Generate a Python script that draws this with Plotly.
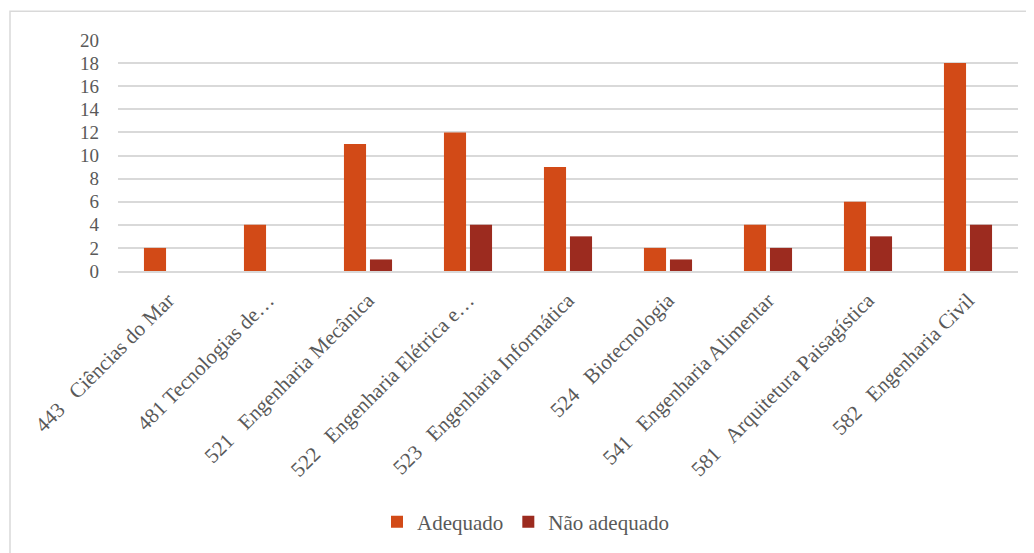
import plotly.graph_objects as go

S = "\u00a0\u00a0\u00a0"
categories = ["443" + S + "Ciências do Mar", "481 Tecnologias de…", "521" + S + "Engenharia Mecânica",
              "522" + S + "Engenharia Elétrica e…", "523" + S + "Engenharia Informática", "524" + S + "Biotecnologia",
              "541" + S + "Engenharia Alimentar", "581" + S + "Arquitetura Paisagística", "582" + S + "Engenharia Civil"]
adequado = [2, 4, 11, 12, 9, 2, 4, 6, 18]
nao_adequado = [0, 0, 1, 4, 3, 1, 2, 3, 4]
y_ticks = [0, 2, 4, 6, 8, 10, 12, 14, 16, 18, 20]

OFF = 8  # page offset of the figure
W, H = 1034 - OFF, 553 - OFF
L, R, T, B = 118 - OFF, 16, 40 - OFF, 553 - 272
pw, ph = W - L - R, H - T - B

def px(x):
    return (x - OFF - L) / pw

def py(y):
    return (H - B - (y - OFF)) / ph

font = "Liberation Serif"
grey = "#595959"

fig = go.Figure()
fig.add_trace(go.Bar(x=categories, y=adequado, name="Adequado", marker_color="#D24A17",
                     marker_line_width=0))
fig.add_trace(go.Bar(x=categories, y=nao_adequado, name="Não adequado", marker_color="#9C2B1F",
                     marker_line_width=0))

fig.update_layout(
    width=W, height=H,
    margin=dict(l=L, r=R, t=T, b=B),
    paper_bgcolor="white", plot_bgcolor="white",
    barmode="group", bargap=0.48, bargroupgap=0.15,
    font=dict(family=font, color=grey, size=18),
    showlegend=True,
    legend=dict(orientation="h", x=px(526), xanchor="center", y=py(522), yanchor="middle",
                font=dict(size=21, color=grey), traceorder="normal", itemwidth=30),
    xaxis=dict(tickangle=-45, showgrid=False, showline=True, linecolor="#D9D9D9", linewidth=1.5,
               ticks="", tickfont=dict(size=21, color=grey), ticklabelstandoff=7),
    yaxis=dict(range=[0, 20], tickvals=y_ticks, showgrid=True, gridcolor="#D9D9D9", gridwidth=1.5,
               zeroline=False, showline=False, ticks="", tickfont=dict(size=19, color=grey),
               ticklabelstandoff=18),
    shapes=[dict(type="rect", xref="paper", yref="paper", x0=px(10), x1=px(1031), y0=py(560), y1=py(11),
                 line=dict(color="#D9D9D9", width=1.5), fillcolor="rgba(0,0,0,0)", layer="below")],
)

fig.write_html("out.html")
